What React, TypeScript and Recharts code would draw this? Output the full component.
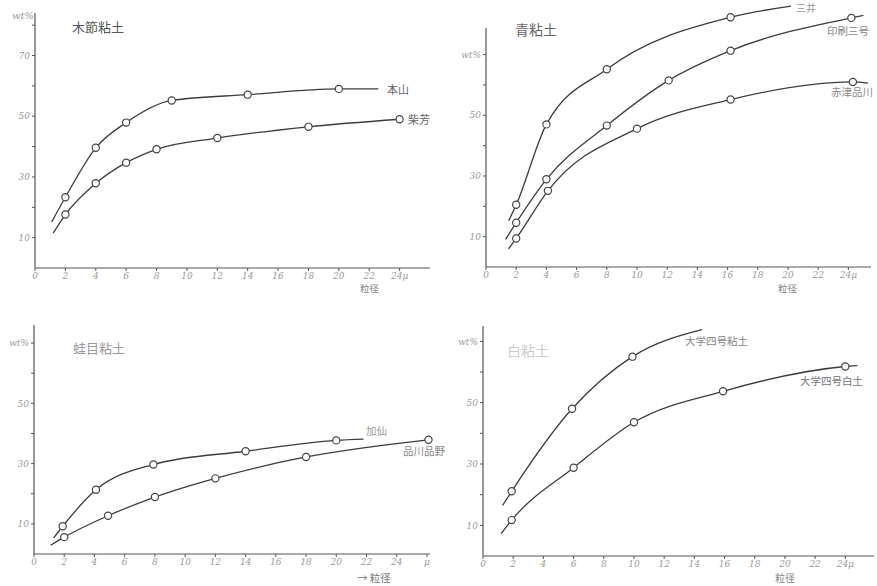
import { LineChart, Line, XAxis, YAxis, ReferenceLine } from "recharts";

// 木節粘土
const honzanX = [1.1, 2, 4, 6, 9, 14, 20, 22.6];
const honzanY = [15.2, 23.3, 39.6, 47.9, 55.2, 57.1, 59.0, 59.0];
const honzanM = [0, 1, 1, 1, 1, 1, 1, 0];
const shibaX = [1.2, 2, 4, 6, 8, 12, 18, 24];
const shibaY = [11.5, 17.6, 27.9, 34.7, 39.1, 42.8, 46.5, 49.0];
const shibaM = [0, 1, 1, 1, 1, 1, 1, 1];

// 青粘土
const mitsuiX = [1.5, 2, 4, 8, 16.2, 20.2];
const mitsuiY = [15.2, 20.5, 47.0, 65.2, 82.3, 86.0];
const mitsuiM = [0, 1, 1, 1, 1, 0];
const insatsuX = [1.3, 2, 4, 8, 12.1, 16.2, 24.2, 25];
const insatsuY = [9.1, 14.6, 28.9, 46.6, 61.5, 71.3, 82.1, 82.9];
const insatsuM = [0, 1, 1, 1, 1, 1, 1, 0];
const akazuX = [1.5, 2, 4.1, 10, 16.2, 24.3, 25.3];
const akazuY = [6.0, 9.4, 25.1, 45.6, 55.2, 61.0, 60.6];
const akazuM = [0, 1, 1, 1, 1, 1, 0];

// 蛙目粘土
const kasenX = [1.3, 1.9, 4.1, 7.9, 14, 20, 21.8];
const kasenY = [5.3, 9.2, 21.3, 29.7, 34.1, 37.7, 38.1];
const kasenM = [0, 1, 1, 1, 1, 1, 0];
const shinaX = [1.1, 2, 4.9, 8, 12, 18, 26.1];
const shinaY = [2.9, 5.6, 12.7, 18.9, 25.1, 32.2, 37.9];
const shinaM = [0, 1, 1, 1, 1, 1, 1];

// 白粘土
const daiNX = [1.3, 1.9, 5.9, 9.9, 14.5];
const daiNY = [16.5, 21.1, 48.0, 65.0, 73.8];
const daiNM = [0, 1, 1, 1, 0];
const daiHX = [1.2, 1.9, 6, 10, 15.9, 24, 24.8];
const daiHY = [7.3, 11.7, 28.8, 43.6, 53.7, 61.8, 62.1];
const daiHM = [0, 1, 1, 1, 1, 1, 0];

// ticks
const xTicks = [0, 2, 4, 6, 8, 10, 12, 14, 16, 18, 20, 22, 24];
const xLabels = ["0", "2", "4", "6", "8", "10", "12", "14", "16", "18", "20", "22", "24μ"];
const xTicksB = [0, 2, 4, 6, 8, 10, 12, 14, 16, 18, 20, 22, 24, 26];
const xLabelsB = ["0", "2", "4", "6", "8", "10", "12", "14", "16", "18", "20", "22", "24", "μ"];
const yTicksA = [10, 20, 30, 40, 50, 60, 70, 80];
const yLabelsA = ["10", "", "30", "", "50", "", "70", ""];
const yTicks = [10, 20, 30, 40, 50, 60, 70];
const yLabels = ["10", "", "30", "", "50", "", "wt%"];

const pts = (xs: number[], ys: number[], ms: number[]) =>
  xs.map((x, i) => ({ x, y: ys[i], m: ms[i] }));

const ink = "#3c3c3c";
const jp = '"Noto Sans CJK JP", sans-serif';
const tickStyle = { fontSize: 9, fill: "#999", fontStyle: "italic", fontFamily: '"DejaVu Serif", serif' };

const dot = (props: any) =>
  props.payload.m ? (
    <circle key={`d${props.index}`} cx={props.cx} cy={props.cy} r={3.6} fill="#fff" stroke="#444" strokeWidth={1.2} />
  ) : (
    <g key={`d${props.index}`} />
  );

const panels = [
  {
    left: 0, top: 0, width: 440, height: 290, yw: 35,
    margin: { top: 13, right: 10, left: 0, bottom: 2 },
    xDomain: [0, 26], yDomain: [0, 84], axisTop: 84,
    xt: xTicks, xl: xLabels, yt: yTicksA, yl: yLabelsA,
    series: [pts(honzanX, honzanY, honzanM), pts(shibaX, shibaY, shibaM)],
  },
  {
    left: 440, top: 0, width: 437, height: 290, yw: 46,
    margin: { top: 0, right: 6, left: 0, bottom: 3 },
    xDomain: [0, 25.5], yDomain: [0, 88], axisTop: 78.8,
    xt: xTicks, xl: xLabels, yt: yTicks, yl: yLabels,
    series: [pts(mitsuiX, mitsuiY, mitsuiM), pts(insatsuX, insatsuY, insatsuM), pts(akazuX, akazuY, akazuM)],
  },
  {
    left: 0, top: 290, width: 440, height: 296, yw: 34,
    margin: { top: 35, right: 10, left: 0, bottom: 12 },
    xDomain: [0, 26.2], yDomain: [0, 76], axisTop: 76,
    xt: xTicksB, xl: xLabelsB, yt: yTicks, yl: yLabels,
    series: [pts(kasenX, kasenY, kasenM), pts(shinaX, shinaY, shinaM)],
  },
  {
    left: 440, top: 290, width: 437, height: 296, yw: 43,
    margin: { top: 36, right: 3, left: 0, bottom: 10 },
    xDomain: [0, 25.9], yDomain: [0, 75], axisTop: 75,
    xt: xTicks, xl: xLabels, yt: yTicks, yl: yLabels,
    series: [pts(daiNX, daiNY, daiNM), pts(daiHX, daiHY, daiHM)],
  },
];

const texts = [
  { t: "木節粘土", x: 72, y: 20, s: 13, c: "#555" },
  { t: "本山", x: 387, y: 84, s: 11, c: "#666" },
  { t: "柴芳", x: 408, y: 114, s: 11, c: "#666" },
  { t: "粒径", x: 360, y: 284, s: 9.5, c: "#888" },
  { t: "青粘土", x: 515, y: 22, s: 14, c: "#666" },
  { t: "三井", x: 796, y: 3, s: 10, c: "#999" },
  { t: "印刷三号", x: 827, y: 26, s: 10.5, c: "#888" },
  { t: "赤津品川", x: 831, y: 87, s: 10.5, c: "#888" },
  { t: "粒径", x: 778, y: 284, s: 9.5, c: "#888" },
  { t: "蛙目粘土", x: 73, y: 341, s: 13, c: "#999" },
  { t: "加仙", x: 366, y: 426, s: 10.5, c: "#999" },
  { t: "品川品野", x: 403, y: 446, s: 10.5, c: "#888" },
  { t: "→ 粒径", x: 357, y: 573, s: 10.5, c: "#777" },
  { t: "白粘土", x: 507, y: 343, s: 14, c: "#ccc" },
  { t: "大学四号粘土", x: 685, y: 336, s: 10.5, c: "#888" },
  { t: "大学四号白土", x: 800, y: 376, s: 10.5, c: "#777" },
  { t: "粒径", x: 775, y: 573, s: 10, c: "#888" },
];

export default function App() {
  return (
    <div style={{ position: "absolute", left: 0, top: 0, width: 877, height: 586, background: "#fff", overflow: "hidden" }}>
      {panels.map((p, k) => (
        <div key={k} style={{ position: "absolute", left: p.left, top: p.top }}>
          <LineChart width={p.width} height={p.height} margin={p.margin}>
            <XAxis
              type="number"
              dataKey="x"
              domain={p.xDomain}
              ticks={p.xt}
              tickFormatter={(v: number) => p.xl[p.xt.indexOf(v)] ?? ""}
              height={20}
              tickSize={3}
              tickMargin={2}
              stroke="#555"
              tick={tickStyle}
              interval={0}
            />
            <YAxis
              type="number"
              dataKey="y"
              domain={p.yDomain}
              ticks={p.yt}
              tickFormatter={(v: number) => p.yl[p.yt.indexOf(v)] ?? ""}
              width={p.yw}
              tickSize={3}
              tickMargin={2}
              stroke="#555"
              axisLine={false}
              tick={tickStyle}
              interval={0}
            />
            <ReferenceLine segment={[{ x: 0, y: 0 }, { x: 0, y: p.axisTop }]} stroke="#555" strokeWidth={1.2} />
            {p.series.map((d, i) => (
              <Line
                key={i}
                data={d}
                dataKey="y"
                type="monotone"
                stroke={ink}
                strokeWidth={1.3}
                dot={dot}
                activeDot={false}
                isAnimationActive={false}
              />
            ))}
          </LineChart>
        </div>
      ))}
      <div style={{ position: "absolute", left: 12, top: 10, fontSize: 10, fontStyle: "italic", color: "#999", fontFamily: '"DejaVu Serif", serif' }}>
        wt%
      </div>
      {texts.map((t, i) => (
        <div
          key={i}
          style={{ position: "absolute", left: t.x, top: t.y, fontSize: t.s, lineHeight: 1, color: t.c, fontFamily: jp, whiteSpace: "nowrap" }}
        >
          {t.t}
        </div>
      ))}
    </div>
  );
}
